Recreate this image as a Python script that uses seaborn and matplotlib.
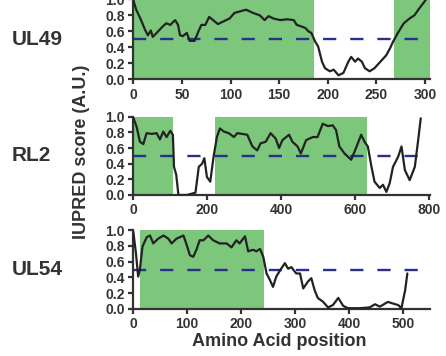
import numpy as np
import pandas as pd
import matplotlib
matplotlib.use("Agg")
import matplotlib.pyplot as plt
import seaborn as sns

# ---------------- data ----------------
ul49_pos = [0, 3, 8, 12, 15, 18, 20, 24, 31, 34, 38, 43, 46, 48, 51, 55, 58, 63, 67, 70,
            74, 78, 82, 87, 92, 99, 104, 110, 116, 123, 130, 135, 139, 144, 151, 158, 165,
            168, 173, 177, 180, 183, 187, 190, 194, 197, 202, 206, 211, 216, 221, 224, 228,
            231, 235, 238, 243, 248, 254, 257, 260, 264, 267, 272, 278, 284, 289, 293, 298, 301]
ul49_score = [0.99, 0.87, 0.74, 0.62, 0.55, 0.61, 0.53, 0.58, 0.67, 0.70, 0.68, 0.74, 0.68,
              0.55, 0.54, 0.58, 0.48, 0.48, 0.60, 0.68, 0.68, 0.78, 0.74, 0.69, 0.72, 0.76,
              0.83, 0.85, 0.87, 0.83, 0.80, 0.74, 0.79, 0.76, 0.74, 0.75, 0.74, 0.68, 0.66,
              0.64, 0.60, 0.58, 0.47, 0.41, 0.22, 0.14, 0.10, 0.12, 0.05, 0.08, 0.22, 0.28,
              0.22, 0.26, 0.22, 0.14, 0.10, 0.14, 0.22, 0.26, 0.30, 0.39, 0.47, 0.58, 0.70,
              0.76, 0.80, 0.87, 0.95, 1.00]
ul49_green = [(0, 186), (268, 305)]

rl2_pos = [0, 9, 18, 27, 36, 50, 63, 72, 81, 90, 100, 107, 110, 116, 122, 145, 168, 177,
           186, 192, 199, 208, 217, 226, 234, 245, 258, 272, 281, 308, 322, 335, 344, 358,
           371, 385, 394, 403, 421, 430, 444, 453, 467, 485, 498, 512, 526, 539, 548, 557,
           571, 589, 602, 616, 625, 634, 643, 652, 666, 675, 684, 693, 702, 716, 725, 734,
           747, 761, 770, 777]
rl2_score = [0.99, 0.87, 0.68, 0.65, 0.79, 0.78, 0.79, 0.71, 0.81, 0.74, 0.82, 0.77, 0.36,
             0.26, 0.00, 0.00, 0.03, 0.36, 0.40, 0.47, 0.23, 0.17, 0.49, 0.74, 0.85, 0.81,
             0.79, 0.74, 0.79, 0.77, 0.62, 0.57, 0.66, 0.68, 0.79, 0.72, 0.60, 0.70, 0.77,
             0.68, 0.62, 0.53, 0.70, 0.74, 0.74, 0.91, 0.88, 0.89, 0.83, 0.62, 0.53, 0.45,
             0.60, 0.77, 0.68, 0.62, 0.38, 0.17, 0.09, 0.13, 0.04, 0.15, 0.36, 0.49, 0.62,
             0.32, 0.19, 0.36, 0.70, 0.98]
rl2_green = [(0, 107), (222, 632)]

ul54_pos = [0, 5, 9, 12, 17, 25, 31, 37, 46, 56, 65, 71, 80, 93, 99, 105, 111, 117, 123,
            130, 139, 148, 160, 173, 182, 191, 197, 207, 213, 222, 228, 235, 241, 247, 253,
            259, 265, 274, 281, 287, 293, 302, 309, 315, 324, 330, 336, 342, 352, 361, 370,
            380, 389, 398, 420, 438, 448, 457, 472, 481, 491, 497, 504, 508]
ul54_score = [0.98, 0.70, 0.41, 0.49, 0.79, 0.91, 0.93, 0.83, 0.89, 0.93, 0.89, 0.83, 0.89,
              0.93, 0.81, 0.68, 0.66, 0.75, 0.87, 0.87, 0.93, 0.87, 0.83, 0.83, 0.78, 0.87,
              0.83, 0.92, 0.73, 0.75, 0.73, 0.76, 0.66, 0.45, 0.37, 0.28, 0.41, 0.51, 0.58,
              0.51, 0.53, 0.45, 0.45, 0.26, 0.35, 0.39, 0.24, 0.14, 0.09, 0.02, 0.05, 0.14,
              0.04, 0.01, 0.01, 0.02, 0.06, 0.03, 0.09, 0.07, 0.05, 0.01, 0.24, 0.45]
ul54_green = [(13, 243)]

names = ["UL49", "RL2", "UL54"]
x_ticks = [[0, 50, 100, 150, 200, 250, 300], [0, 200, 400, 600, 800], [0, 100, 200, 300, 400, 500]]
x_max = [305, 802, 550]
y_ticks = [0.0, 0.2, 0.4, 0.6, 0.8, 1.0]
threshold = 0.5

# ---------------- style ----------------
sns.set_style("ticks")
plt.rcParams['font.family'] = ['Liberation Sans', 'DejaVu Sans']
plt.rcParams['font.weight'] = 'bold'

W, H = 446, 356
fig = plt.figure(figsize=(W / 100, H / 100), dpi=100)

dark = "#333333"
green = "#7cc77c"
navy = "#2b2f8c"

# axes boxes in pixels: (left, top, right, bottom)
boxes = [(133.3, -0.7, 430, 79.3), (133.3, 116.7, 430, 195), (133.3, 230, 430, 309)]
series = [(ul49_pos, ul49_score, ul49_green), (rl2_pos, rl2_score, rl2_green),
          (ul54_pos, ul54_score, ul54_green)]

for i, ((l, t, r, b), (pos, sc, greens)) in enumerate(zip(boxes, series)):
    ax = fig.add_axes([l / W, 1 - b / H, (r - l) / W, (b - t) / H])
    for g0, g1 in greens:
        ax.axvspan(g0, g1, ymin=0, ymax=1, color=green, lw=0, zorder=0)
    df = pd.DataFrame({"pos": pos, "score": sc})
    sns.lineplot(data=df, x="pos", y="score", ax=ax, color="#222222", lw=1.6, zorder=3)
    ax.axhline(threshold, color=navy, lw=1.7, dashes=(5.6, 5.9), zorder=2)
    ax.set_xlim(0, x_max[i])
    ax.set_ylim(0, 1.0)
    ax.set_xticks(x_ticks[i])
    ax.set_yticks(y_ticks)
    ax.set_yticklabels([f"{v:.1f}" for v in y_ticks])
    ax.set_xlabel("")
    ax.set_ylabel("")
    for s in ["top", "right"]:
        ax.spines[s].set_visible(False)
    for s in ["left", "bottom"]:
        ax.spines[s].set_linewidth(1.6)
        ax.spines[s].set_color(dark)
    ax.tick_params(axis="both", length=3.6, width=1.6, color=dark, labelsize=10,
                   labelcolor=dark, pad=2.5)
    for lab in ax.get_xticklabels() + ax.get_yticklabels():
        lab.set_fontweight("bold")
    ax.set_facecolor("none")
    fig.text(12 / W, 1 - ((t + b) / 2) / H, names[i], fontsize=15, fontweight="bold",
             color=dark, ha="left", va="center")

fig.text(81 / W, 1 - 152 / H, "IUPRED score (A.U.)", rotation=90, fontsize=13,
         fontweight="bold", color=dark, ha="center", va="center")
fig.text(279 / W, 1 - 341 / H, "Amino Acid position", fontsize=13, fontweight="bold",
         color=dark, ha="center", va="center")

fig.savefig("out.png", dpi=100)
